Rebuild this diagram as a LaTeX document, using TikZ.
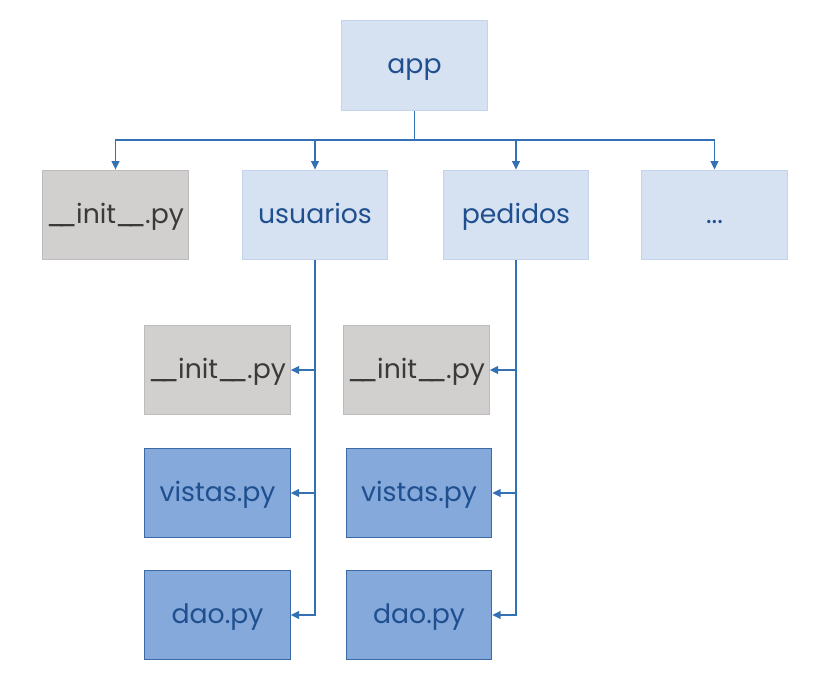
\documentclass[tikz,border=0pt]{standalone}
\usepackage{fontspec}
\setmainfont{Poppins}
\usetikzlibrary{arrows.meta}
\definecolor{linea}{HTML}{3470B4}
\definecolor{azulclaro}{HTML}{D6E2F1}
\definecolor{bordeclaro}{HTML}{C3D5EC}
\definecolor{gris}{HTML}{D2CFCF}
\definecolor{bordegris}{HTML}{BDBBBB}
\definecolor{azul}{HTML}{84A9DA}
\definecolor{bordeazul}{HTML}{3C6AA5}
\definecolor{textoazul}{HTML}{1F4F8F}
\definecolor{textogris}{HTML}{3A3A3A}
\newcommand{\guiones}{\kern-0.04em\_\kern-0.3em\_\kern-0.04em}
\tikzset{
	caja/.style={minimum width=3.63cm,minimum height=2.24cm,inner sep=0pt,line width=0.8pt,
		text height=12pt,text depth=0pt,font=\fontsize{19}{22}\selectfont},
	carpeta/.style={caja,draw=bordeclaro,fill=azulclaro,text=textoazul},
	initpy/.style={caja,draw=bordegris,fill=gris,text=textogris},
	modulo/.style={caja,draw=bordeazul,fill=azul,text=textoazul},
	flecha/.style={draw=linea,line width=1.1pt,-{Triangle[length=6pt,width=5.5pt]}}
}
\begin{document}
\begin{tikzpicture}[x=0.025cm,y=-0.025cm]
			\useasboundingbox (0,0) rectangle (820,688);
			\node[carpeta] (app) at (414.5,65.5) {app};
			\node[initpy] (init) at (115.5,215) {\guiones init\guiones.py};
			\node[carpeta] (usuarios) at (315,215) {usuarios};
			\node[carpeta] (pedidos) at (516,215) {pedidos};
			\node[carpeta] (otros) at (714.5,215) {...};
			\node[initpy] (uinit) at (217.5,370) {\guiones init\guiones.py};
			\node[modulo] (uvistas) at (217.5,493) {vistas.py};
			\node[modulo] (udao) at (217.5,615) {dao.py};
			\node[initpy] (pinit) at (416.5,370) {\guiones init\guiones.py};
			\node[modulo] (pvistas) at (419,493) {vistas.py};
			\node[modulo] (pdao) at (419,615) {dao.py};
			\coordinate (bus) at (414.5,140);
			\draw[draw=linea,line width=1.1pt] (app.south) -- (bus);
			\draw[flecha] (bus) -| (init.north);
			\draw[flecha] (bus) -| (usuarios.north);
			\draw[flecha] (bus) -| (pedidos.north);
			\draw[flecha] (bus) -| (otros.north);
			\draw[flecha] (usuarios.south) |- (uinit.east);
			\draw[flecha] (usuarios.south) |- (uvistas.east);
			\draw[flecha] (usuarios.south) |- (udao.east);
			\draw[flecha] (pedidos.south) |- (pinit.east);
			\draw[flecha] (pedidos.south) |- (pvistas.east);
			\draw[flecha] (pedidos.south) |- (pdao.east);
		\end{tikzpicture}
\end{document}
